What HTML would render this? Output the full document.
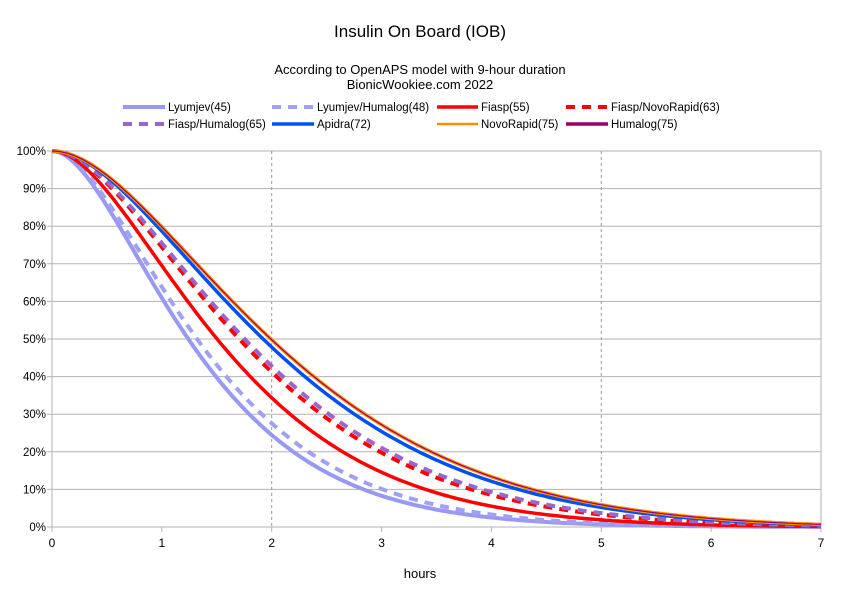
<!DOCTYPE html>
<html><head><meta charset="utf-8"><style>
body{margin:0;background:#fff}
svg{display:block;font-family:"Liberation Sans",sans-serif}
</style></head><body>
<svg id="s" width="841" height="594" xmlns="http://www.w3.org/2000/svg">
<rect width="841" height="594" fill="#fff"/>
<text x="420" y="37" font-size="17" text-anchor="middle">Insulin On Board (IOB)</text>
<text x="420" y="74" font-size="13" text-anchor="middle">According to OpenAPS model with 9-hour duration</text>
<text x="420" y="89" font-size="13" text-anchor="middle">BionicWookiee.com 2022</text>
<g id="grid"></g>
<g id="curves"></g>
<g id="legend" font-size="11.5"></g>
<text x="420" y="578" font-size="13" text-anchor="middle">hours</text>
</svg>
<script>
const X0=52,X1=821,Y0=527,Y1=151;
const sx=t=>X0+(X1-X0)*t/7, sy=p=>Y0-(Y0-Y1)*p/100;
const ns="http://www.w3.org/2000/svg";
function el(p,tag,a,txt){const e=document.createElementNS(ns,tag);for(const k in a)e.setAttribute(k,a[k]);if(txt!=null)e.textContent=txt;p.appendChild(e);return e;}
const g=document.getElementById('grid');
for(let i=0;i<=10;i++){const y=sy(i*10);el(g,'line',{x1:X0-5,x2:X1,y1:y,y2:y,stroke:'#b3b3b3','stroke-width':1});
el(g,'text',{x:46,y:y+4,'font-size':11.5,'text-anchor':'end'},(i*10)+'%');}
el(g,'line',{x1:X0,x2:X0,y1:Y1,y2:Y0+5,stroke:'#b3b3b3'});
el(g,'line',{x1:X1,x2:X1,y1:Y1,y2:Y0+5,stroke:'#b3b3b3'});
for(let h=0;h<=7;h++){const x=sx(h);if(h>0&&h<7)el(g,'line',{x1:x,x2:x,y1:Y0,y2:Y0+5,stroke:'#b3b3b3'});
el(g,'text',{x:x,y:547,'font-size':12,'text-anchor':'middle'},h);}
[2,5].forEach(h=>el(g,'line',{x1:sx(h),x2:sx(h),y1:Y1,y2:Y0,stroke:'#999','stroke-dasharray':'3,3'}));
function iob(t,tp){const td=540;const tau=tp*(1-tp/td)/(1-2*tp/td);const a=2*tau/td;const S=1/(1-a+(1+a)*Math.exp(-td/tau));
return 100*(1-S*(1-a)*((t*t/(tau*td*(1-a))-t/tau-1)*Math.exp(-t/tau)+1));}
const series=[
['Lyumjev(45)',45,'#9999f5',4,null],
['Lyumjev/Humalog(48)',48,'#a0a0f5',4,'9,7'],
['Fiasp(55)',55,'#ff0000',3.5,null],
['Fiasp/NovoRapid(63)',63,'#ff0000',4,'9,7'],
['Fiasp/Humalog(65)',65,'#9966cc',4,'9,7'],
['Apidra(72)',72,'#0050f0',3.5,null],
['NovoRapid(75)',75,'#ff8c00',3.5,null],
['Humalog(75)',75,'#990066',1.2,null]];
const c=document.getElementById('curves'),L=document.getElementById('legend');
const lx=[123,272,437,566],tx=[168,317,481,611];
series.forEach((s,i)=>{let d='';for(let m=0;m<=420;m+=2){d+=(m?'L':'M')+sx(m/60).toFixed(1)+','+sy(iob(m,s[1])).toFixed(1);}
const o={d:d,fill:'none',stroke:s[2],'stroke-width':s[3],'stroke-linejoin':'round'};if(s[4])o['stroke-dasharray']=s[4];
el(c,'path',o);
const col=i%4,row=Math.floor(i/4),y=row?124:107,x=lx[col];
const lo={x1:x,x2:tx[col]-3,y1:y,y2:y,stroke:s[2],'stroke-width':s[0]==='Humalog(75)'?3.5:(s[0]==='NovoRapid(75)'?2.5:s[3])};if(s[4])lo['stroke-dasharray']=s[4];
el(L,'line',lo);el(L,'text',{x:tx[col],y:y+4},s[0]);});
</script>
</body></html>
